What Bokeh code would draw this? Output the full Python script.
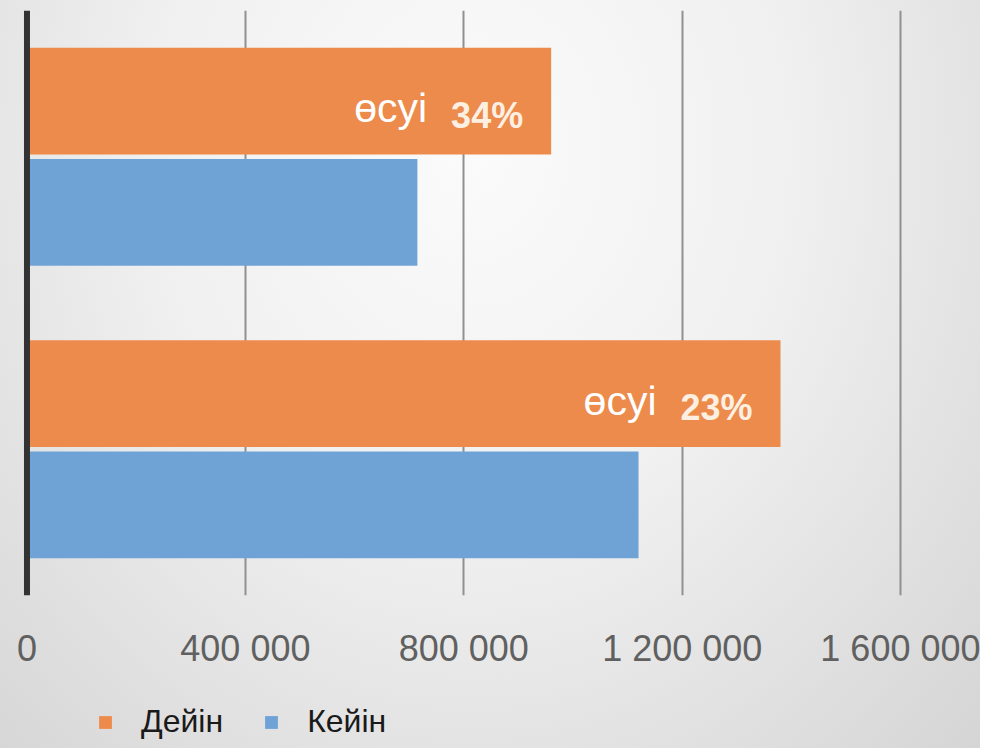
from bokeh.plotting import figure
from bokeh.layouts import column
from bokeh.models import (ColumnDataSource, FixedTicker, Span, Range1d, FactorRange,
                          Legend, LegendItem)
from bokeh.transform import dodge
from bokeh.core.properties import value
from bokeh.embed import file_html
from bokeh.resources import INLINE

# ---- data ----
categories = ["1", "2"]
before = [960000, 1380000]      # Дейін
after = [715000, 1120000]       # Кейін
growth_word = ["өсуі", "өсуі"]
growth_pct = ["34%", "23%"]
tick_values = [0, 400000, 800000, 1200000, 1600000]
tick_labels = ["0", "400 000", "800 000", "1 200 000", "1 600 000"]
series_names = ["Дейін", "Кейін"]

ORANGE = "#ec8b4b"
BLUE = "#6fa3d6"
FONT = "Liberation Sans"

src = ColumnDataSource(dict(cat=categories, before=before, after=after,
                            word=growth_word, pct=growth_pct))

p = figure(width=980, height=690, output_backend="svg", toolbar_location=None,
           x_range=Range1d(-48500, 1746300),
           y_range=FactorRange(factors=list(reversed(categories))),
           y_axis_location=None,
           min_border_left=0, min_border_right=0, min_border_top=10,
           min_border_bottom=95)
p.outline_line_color = None
p.background_fill_color = None
p.border_fill_color = None

p.hbar(y=dodge("cat", 0.19, range=p.y_range), left=0, right="before", height=0.365,
       source=src, fill_color=ORANGE, line_color=None)
p.hbar(y=dodge("cat", -0.19, range=p.y_range), left=0, right="after", height=0.365,
       source=src, fill_color=BLUE, line_color=None)

p.text(x="before", y=dodge("cat", 0.19, range=p.y_range), text="word", source=src,
       x_offset=-124, y_offset=7, text_align="right", text_baseline="alphabetic",
       text_font=value(FONT), text_font_size="41px", text_color="white")
p.text(x="before", y=dodge("cat", 0.19, range=p.y_range), text="pct", source=src,
       x_offset=-28, y_offset=14, text_align="right", text_baseline="alphabetic",
       text_font=value(FONT), text_font_size="36px", text_font_style="bold",
       text_color="#fdf0e2")

p.add_layout(Span(location=0, dimension="height", line_color="#333333", line_width=6))

ax = p.xaxis[0]
ax.ticker = FixedTicker(ticks=tick_values)
ax.major_label_overrides = {v: l for v, l in zip(tick_values, tick_labels)}
ax.axis_line_color = None
ax.major_tick_line_color = None
ax.minor_tick_line_color = None
ax.major_label_standoff = 26
ax.major_label_text_font = FONT
ax.major_label_text_font_size = "36px"
ax.major_label_text_color = "#606060"

p.xgrid.ticker = FixedTicker(ticks=tick_values[1:])
p.xgrid.grid_line_color = "#909090"
p.xgrid.grid_line_width = 2
p.ygrid.grid_line_color = None

# ---- legend strip below the chart ----
# ranges chosen so that the proxy bars fall entirely outside this strip
q = figure(width=980, height=58, output_backend="svg", toolbar_location=None,
           x_axis_location=None, y_axis_location=None,
           x_range=Range1d(-2000000, -1000000), y_range=Range1d(-2000000, -1000000),
           min_border_left=0, min_border_right=0, min_border_top=0, min_border_bottom=0)
q.outline_line_color = None
q.background_fill_color = None
q.border_fill_color = None
q.xgrid.grid_line_color = None
q.ygrid.grid_line_color = None
lr1 = q.hbar(y="before", left=0, right="before", height=1000, source=src,
             fill_color=ORANGE, line_color=None)
lr2 = q.hbar(y="after", left=0, right="after", height=1000, source=src,
             fill_color=BLUE, line_color=None)

lg = Legend(items=[LegendItem(label=series_names[0], renderers=[lr1]),
                   LegendItem(label=series_names[1], renderers=[lr2])],
            orientation="horizontal", location=(97, 8))
lg.background_fill_alpha = 0
lg.border_line_color = None
lg.glyph_width = 16
lg.glyph_height = 16
lg.label_standoff = 28
lg.spacing = 40
lg.padding = 0
lg.margin = 0
lg.label_text_font = FONT
lg.label_text_font_size = "32px"
lg.label_text_color = "#1a1a1a"
lg.label_height = 30
q.add_layout(lg, "center")

layout = column(p, q, spacing=0,
                styles={"background": "radial-gradient(ellipse at 48% 20%, #fbfbfb 0%, #f0f0f0 45%, #d5d5d5 100%)"})

open("out.html", "w").write(file_html(layout, INLINE))
